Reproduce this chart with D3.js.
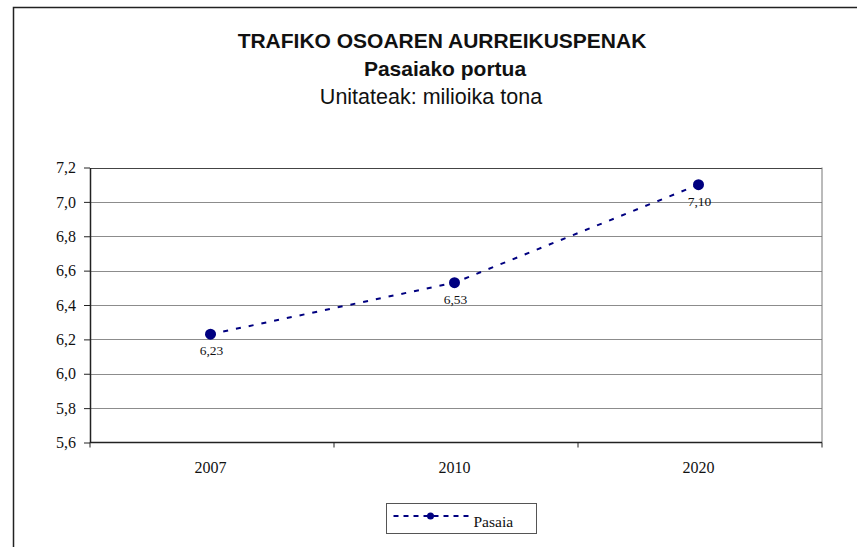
<!DOCTYPE html>
<html>
<head>
<meta charset="utf-8">
<script src="https://cdn.jsdelivr.net/npm/d3@7"></script>
<style>
  html, body { margin: 0; padding: 0; background: #fff; }
  svg { display: block; }
</style>
</head>
<body>
<svg id="chart" width="857" height="547"></svg>
<script>
// Traffic forecast for the port of Pasaia (million tonnes)
const years = ["2007", "2010", "2020"];
const pasaia = [6.23, 6.53, 7.10];
const yTicks = [5.6, 5.8, 6.0, 6.2, 6.4, 6.6, 6.8, 7.0, 7.2];
const seriesName = "Pasaia";
const titleLines = ["TRAFIKO OSOAREN AURREIKUSPENAK", "Pasaiako portua", "Unitateak: milioika tona"];

const svg = d3.select("#chart");
const W = 857, H = 547;
const plot = { left: 90, right: 822, top: 167.5, bottom: 442.5 };
const navy = "#000080";
const ink = "#111";
const serif = "'Liberation Serif', 'Times New Roman', serif";
const sans = "'Liberation Sans', Arial, sans-serif";
const fmt = v => d3.format(".1f")(v).replace(".", ",");
const fmt2 = v => d3.format(".2f")(v).replace(".", ",");

svg.append("rect").attr("width", W).attr("height", H).attr("fill", "#fff");

// outer chart frame
svg.append("rect")
  .attr("x", 13.5).attr("y", 7.5)
  .attr("width", W).attr("height", H)
  .attr("fill", "none").attr("stroke", "#222").attr("stroke-width", 1.5);

// titles
svg.append("text").attr("x", 442).attr("y", 48)
  .attr("text-anchor", "middle").attr("font-family", sans).attr("fill", ink)
  .attr("font-weight", "bold").attr("font-size", 21).text(titleLines[0]);
svg.append("text").attr("x", 445).attr("y", 76)
  .attr("text-anchor", "middle").attr("font-family", sans).attr("fill", ink)
  .attr("font-weight", "bold").attr("font-size", 21).text(titleLines[1]);
svg.append("text").attr("x", 431).attr("y", 104)
  .attr("text-anchor", "middle").attr("font-family", sans).attr("fill", ink)
  .attr("font-size", 21.5).text(titleLines[2]);

const x = d3.scaleBand().domain(years).range([plot.left, plot.right]);
const y = d3.scaleLinear().domain([5.6, 7.2]).range([plot.bottom, plot.top]);
const cx = d => x(d) + x.bandwidth() / 2 - 1.5;

// horizontal gridlines
svg.append("g").selectAll("line")
  .data(yTicks.filter(t => t > 5.6))
  .join("line")
  .attr("x1", plot.left).attr("x2", plot.right)
  .attr("y1", d => Math.round(y(d)) + 0.5).attr("y2", d => Math.round(y(d)) + 0.5)
  .attr("stroke", d => d === 7.2 ? "#444" : "#8c8c8c").attr("stroke-width", 1);

// right edge of plot area
svg.append("line")
  .attr("x1", plot.right).attr("x2", plot.right)
  .attr("y1", plot.top).attr("y2", plot.bottom)
  .attr("stroke", "#777").attr("stroke-width", 1);

// y axis
const yAxis = d3.axisLeft(y).tickValues(yTicks).tickFormat(fmt).tickSize(6).tickSizeOuter(0);
const gy = svg.append("g").attr("transform", `translate(${plot.left},0)`).call(yAxis);
gy.select(".domain").attr("stroke", "#222").attr("stroke-width", 1.5);
gy.selectAll(".tick line").attr("stroke", "#222");
gy.selectAll(".tick text")
  .attr("font-family", serif).attr("font-size", 16).attr("fill", ink)
  .attr("x", -14).attr("dy", "0.32em");

// x axis, ticks between categories
const gx = svg.append("g").attr("transform", `translate(0,${plot.bottom})`);
gx.append("line").attr("x1", plot.left).attr("x2", plot.right)
  .attr("stroke", "#222").attr("stroke-width", 1.5);
const bounds = years.map(d => x(d)).concat([x(years[years.length - 1]) + x.bandwidth()]);
gx.selectAll("line.tk").data(bounds).join("line").attr("class", "tk")
  .attr("x1", d => d).attr("x2", d => d).attr("y1", 0).attr("y2", 5)
  .attr("stroke", "#222");
gx.selectAll("text").data(years).join("text")
  .attr("x", d => cx(d))
  .attr("y", 30.5)
  .attr("text-anchor", "middle")
  .attr("font-family", serif).attr("font-size", 16).attr("fill", ink)
  .text(d => d);

// series line
const pts = years.map((d, i) => ({ year: d, v: pasaia[i] }));
const line = d3.line().x(d => cx(d.year)).y(d => y(d.v));
svg.append("path").datum(pts)
  .attr("d", line).attr("fill", "none")
  .attr("stroke", navy).attr("stroke-width", 2)
  .attr("stroke-dasharray", "5,8");

svg.append("g").selectAll("circle").data(pts).join("circle")
  .attr("cx", d => cx(d.year))
  .attr("cy", d => y(d.v))
  .attr("r", 5.5).attr("fill", navy);

// value labels
svg.append("g").selectAll("text").data(pts).join("text")
  .attr("x", d => cx(d.year) + 1)
  .attr("y", d => y(d.v) + 21)
  .attr("text-anchor", "middle")
  .attr("font-family", serif).attr("font-size", 13.5).attr("fill", ink)
  .text(d => fmt2(d.v));

// legend
const lg = svg.append("g").attr("transform", "translate(386.5,503.5)");
lg.append("rect").attr("width", 150).attr("height", 30)
  .attr("fill", "#fff").attr("stroke", "#555").attr("stroke-width", 1);
lg.append("line").attr("x1", 7).attr("x2", 84).attr("y1", 12.5).attr("y2", 12.5)
  .attr("stroke", navy).attr("stroke-width", 2).attr("stroke-dasharray", "5,5");
lg.append("circle").attr("cx", 44).attr("cy", 12.5).attr("r", 3.5).attr("fill", navy);
lg.append("text").attr("x", 87).attr("y", 23)
  .attr("font-family", serif).attr("font-size", 15.5).attr("fill", ink)
  .text(seriesName);
</script>
</body>
</html>
